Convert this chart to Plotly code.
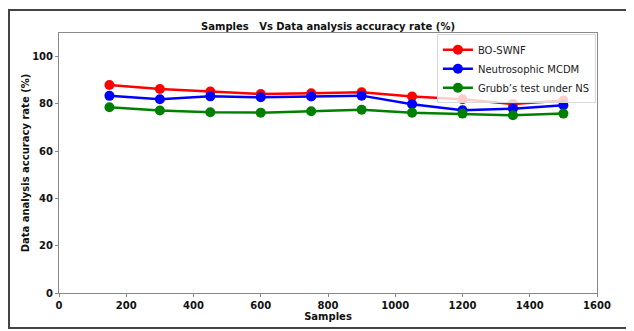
import plotly.graph_objects as go

samples = [150, 300, 450, 600, 750, 900, 1050, 1200, 1350, 1500]
bo_swnf = [88.0, 86.3, 85.2, 84.2, 84.5, 84.9, 83.1, 82.0, 80.0, 81.4]
neutro_mcdm = [83.4, 82.0, 83.2, 82.8, 83.1, 83.5, 79.9, 77.3, 78.0, 79.4]
grubbs_ns = [78.6, 77.2, 76.5, 76.3, 76.9, 77.5, 76.3, 75.9, 75.2, 75.9]

series = [
    ("BO-SWNF", bo_swnf, "#ff0000"),
    ("Neutrosophic MCDM", neutro_mcdm, "#0000ff"),
    ("Grubb\u2019s test under NS", grubbs_ns, "#008000"),
]

x_ticks = [0, 200, 400, 600, 800, 1000, 1200, 1400, 1600]
y_ticks = [0, 20, 40, 60, 80, 100]

fig = go.Figure()
for name, vals, col in series:
    fig.add_trace(go.Scatter(
        x=samples, y=vals, name=name, mode="lines+markers",
        line=dict(color=col, width=2.5),
        marker=dict(color=col, size=10),
    ))

# page body has an 8px margin; figure sized so the plot lands where the reference has it
W, H = 626, 323
L, R, T, B = 51, 37, 25, 38
PW, PH = W - L - R, H - T - B

font_fam = "DejaVu Sans, sans-serif"
fig.update_layout(
    width=W, height=H,
    margin=dict(l=L, r=R, t=T, b=B, autoexpand=False),
    paper_bgcolor="white", plot_bgcolor="white",
    title=dict(text="<b>Samples   Vs Data analysis accuracy rate (%)</b>",
               x=0.5, xref="paper", y=1 - 18 / H, yanchor="middle",
               font=dict(family=font_fam, size=10, color="#111")),
    font=dict(family=font_fam, color="#111"),
    showlegend=True,
    legend=dict(x=0.998, y=0.995, xanchor="right", yanchor="top",
                bgcolor="rgba(255,255,255,0.8)", bordercolor="#d8d8d8", borderwidth=1,
                font=dict(family=font_fam, size=10, color="#222"),
                tracegroupgap=0, itemwidth=30),
    xaxis=dict(range=[0, 1600], tickvals=x_ticks, automargin=False,
               ticktext=[f"<b>{v}</b>" for v in x_ticks],
               showgrid=False, zeroline=False, showline=True,
               linecolor="#888", linewidth=1, mirror=True,
               ticks="outside", ticklen=3, tickcolor="#888",
               tickfont=dict(size=10, color="#111"),
               title=dict(text="<b>Samples</b>", font=dict(size=10), standoff=2)),
    yaxis=dict(range=[0, 110], tickvals=y_ticks, automargin=False,
               ticktext=[f"<b>{v}</b>" for v in y_ticks],
               showgrid=False, zeroline=False, showline=True,
               linecolor="#888", linewidth=1, mirror=True,
               ticks="outside", ticklen=3, tickcolor="#888",
               tickfont=dict(size=10, color="#111"),
               title=dict(text="<b>Data analysis accuracy rate (%)</b>",
                          font=dict(size=10), standoff=0)),
    shapes=[dict(type="rect", xref="paper", yref="paper",
                 x0=(1 - L) / PW, x1=(622 - L) / PW,
                 y0=(T + PH - 320) / PH, y1=(T + PH - 2) / PH,
                 line=dict(color="#444", width=2), layer="below")],
)

fig.write_html("out.html")
